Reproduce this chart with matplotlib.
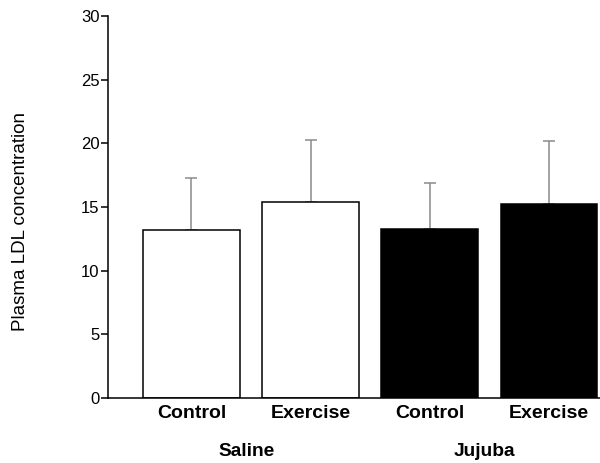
import matplotlib
matplotlib.use('Agg')
import matplotlib.pyplot as plt
import matplotlib.transforms as mtransforms

plt.rcParams['font.family'] = ['Liberation Sans', 'DejaVu Sans']

groups = ['Saline', 'Jujuba']
labels = ['Control', 'Exercise', 'Control', 'Exercise']
means = [13.2, 15.4, 13.3, 15.2]
errors = [4.1, 4.85, 3.6, 5.0]
colors = ['white', 'white', 'black', 'black']

fig = plt.figure(figsize=(6, 4.63), dpi=100)
ax = fig.add_axes([0.18, 0.1404, 0.82, 0.825])

x = list(range(len(means)))
ax.bar(x, means, width=0.81, color=colors, edgecolor='black', linewidth=1.1, zorder=2)
ax.errorbar(x, means, yerr=[[0] * len(errors), errors], fmt='none',
            ecolor='#8a8a8a', elinewidth=1.1, capsize=4.5, capthick=1.1, zorder=1)

ax.set_xlim(-0.70, 3.43)
ax.set_ylim(0, 30)
ax.set_yticks(range(0, 31, 5))
ax.set_xticks(x)
ax.set_xticklabels(labels, fontweight='bold', fontsize=14)
ax.tick_params(axis='x', length=0, pad=5)
ax.tick_params(axis='y', length=5, width=1.1, labelsize=12, pad=1)

for s in ['top', 'right']:
    ax.spines[s].set_visible(False)
for s in ['left', 'bottom']:
    ax.spines[s].set_linewidth(1.1)

ax.set_ylabel('Plasma LDL concentration', fontsize=13.5, va='center')
ax.yaxis.set_label_coords(-0.177, 0.463)

trans = mtransforms.blended_transform_factory(ax.transData, ax.transAxes)
for i, g in enumerate(groups):
    ax.text(2 * i + 0.46, -0.141, g, transform=trans, ha='center', va='center',
            fontweight='bold', fontsize=13.8)

fig.savefig('out.png', dpi=100)
